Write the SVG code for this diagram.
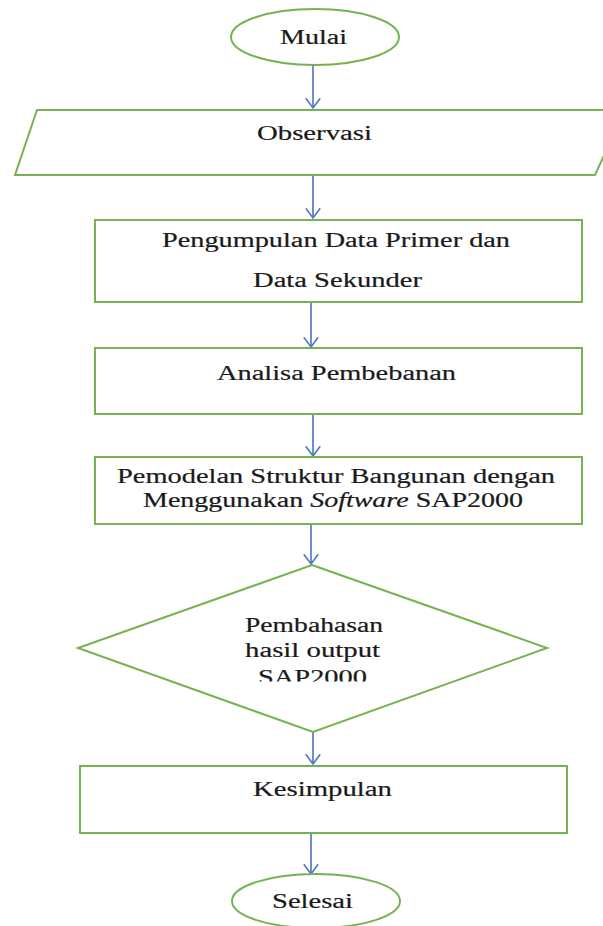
<svg xmlns="http://www.w3.org/2000/svg" width="603" height="926" viewBox="0 0 603 926">
  <style>
    .shape { fill: #ffffff; stroke: #77b250; stroke-width: 2; }
    .conn { stroke: #4a74c4; stroke-width: 1.6; fill: none; }
    .lbl { font-family: "Liberation Serif", "Times New Roman", serif; font-size: 20px; fill: #1a1a1a; stroke: #1a1a1a; stroke-width: 0.2; }
  </style>
  <defs>
    <marker id="arr" markerUnits="userSpaceOnUse" viewBox="0 0 12 16" markerWidth="12" markerHeight="16" refX="10.5" refY="8" orient="auto">
      <path d="M0.8,0.8 L10.5,8 L0.8,15.2" fill="none" stroke="#4a74c4" stroke-width="1.6"/>
    </marker>
    <clipPath id="clipSap">
      <rect x="200" y="660" width="200" height="21.5"/>
    </clipPath>
  </defs>
  <rect width="603" height="926" fill="#ffffff"/>

  <g id="connectors">
    <line class="conn" x1="313" y1="65" x2="313" y2="108" marker-end="url(#arr)"/>
    <line class="conn" x1="313" y1="175" x2="313" y2="218" marker-end="url(#arr)"/>
    <line class="conn" x1="311" y1="302" x2="311" y2="347" marker-end="url(#arr)"/>
    <line class="conn" x1="313" y1="414" x2="313" y2="456" marker-end="url(#arr)"/>
    <line class="conn" x1="311" y1="524" x2="311" y2="564" marker-end="url(#arr)"/>
    <line class="conn" x1="313" y1="732" x2="313" y2="764" marker-end="url(#arr)"/>
    <line class="conn" x1="311" y1="833" x2="311" y2="874" marker-end="url(#arr)"/>
  </g>

  <g id="mulai">
    <ellipse class="shape" cx="315" cy="37" rx="84" ry="28"/>
    <text class="lbl" x="280" y="44" textLength="67" lengthAdjust="spacingAndGlyphs">Mulai</text>
  </g>

  <g id="observasi">
    <polygon class="shape" points="37,110 625,110 595,175 15,175"/>
    <text class="lbl" x="257" y="140" textLength="115" lengthAdjust="spacingAndGlyphs">Observasi</text>
  </g>

  <g id="pengumpulan">
    <rect class="shape" x="95" y="220" width="487" height="82"/>
    <text class="lbl" x="162" y="247" textLength="348" lengthAdjust="spacingAndGlyphs">Pengumpulan Data Primer dan</text>
    <text class="lbl" x="253" y="287" textLength="169" lengthAdjust="spacingAndGlyphs">Data Sekunder</text>
  </g>

  <g id="analisa">
    <rect class="shape" x="95" y="348" width="487" height="66"/>
    <text class="lbl" x="217" y="380" textLength="239" lengthAdjust="spacingAndGlyphs">Analisa Pembebanan</text>
  </g>

  <g id="pemodelan">
    <rect class="shape" x="95" y="457" width="487" height="67"/>
    <text class="lbl" x="117" y="483" textLength="438" lengthAdjust="spacingAndGlyphs">Pemodelan Struktur Bangunan dengan</text>
    <text class="lbl" x="143" y="507" textLength="380" lengthAdjust="spacingAndGlyphs">Menggunakan <tspan font-style="italic">Software</tspan> SAP2000</text>
  </g>

  <g id="pembahasan">
    <polygon class="shape" points="312,565 547,648 313,732 78,648" stroke-width="1.8"/>
    <text class="lbl" x="245" y="632" textLength="138" lengthAdjust="spacingAndGlyphs">Pembahasan</text>
    <text class="lbl" x="245" y="657" textLength="135" lengthAdjust="spacingAndGlyphs">hasil output</text>
    <text class="lbl" x="258" y="684" textLength="109" lengthAdjust="spacingAndGlyphs" clip-path="url(#clipSap)">SAP2000</text>
  </g>

  <g id="kesimpulan">
    <rect class="shape" x="80" y="766" width="487" height="67"/>
    <text class="lbl" x="253" y="796" textLength="139" lengthAdjust="spacingAndGlyphs">Kesimpulan</text>
  </g>

  <g id="selesai">
    <ellipse class="shape" cx="316" cy="901" rx="84" ry="27"/>
    <text class="lbl" x="272" y="908" textLength="81" lengthAdjust="spacingAndGlyphs">Selesai</text>
  </g>
</svg>
